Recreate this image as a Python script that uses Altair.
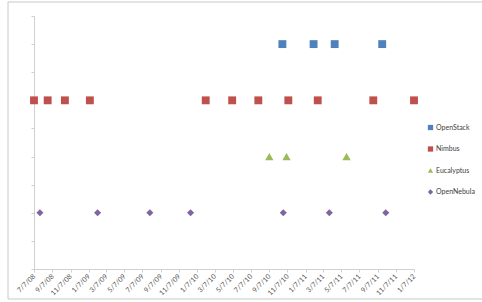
import altair as alt
import pandas as pd

series_names = ["OpenStack", "Nimbus", "Eucalyptus", "OpenNebula"]
series_levels = [8, 6, 4, 2]
series_colors = ["#4F81BD", "#C0504D", "#9BBB59", "#8064A2"]
series_shapes = ["square", "square", "triangle-up", "diamond"]

openstack_dates = ["2010-10-21", "2011-02-03", "2011-04-15", "2011-09-22"]
nimbus_dates = ["2008-07-07", "2008-08-22", "2008-10-19", "2009-01-11", "2010-02-05",
                "2010-05-05", "2010-08-01", "2010-11-10", "2011-02-17", "2011-08-23",
                "2012-01-07"]
eucalyptus_dates = ["2010-09-07", "2010-11-04", "2011-05-25"]
opennebula_dates = ["2008-07-27", "2009-02-06", "2009-08-01", "2009-12-16",
                    "2010-10-24", "2011-03-28", "2011-10-04"]

tick_dates = ["2008-07-07", "2008-09-07", "2008-11-07", "2009-01-07", "2009-03-07",
              "2009-05-07", "2009-07-07", "2009-09-07", "2009-11-07", "2010-01-07",
              "2010-03-07", "2010-05-07", "2010-07-07", "2010-09-07", "2010-11-07",
              "2011-01-07", "2011-03-07", "2011-05-07", "2011-07-07", "2011-09-07",
              "2011-11-07", "2012-01-07"]
y_ticks = [0, 1, 2, 3, 4, 5, 6, 7, 8, 9]

rows = []
for name, level, dates in zip(series_names, series_levels,
                              [openstack_dates, nimbus_dates, eucalyptus_dates, opennebula_dates]):
    for d in dates:
        rows.append({"series": name, "date": d, "level": level})
df = pd.DataFrame(rows)

sizes = {"OpenStack": 62, "Nimbus": 62, "Eucalyptus": 70, "OpenNebula": 50}
df["size"] = df["series"].map(sizes)

W, H = 380, 253
PL, PT = 34, 16

legend_kw = dict(title=None, orient="none", legendX=393, legendY=108,
                 labelFontSize=7, labelColor="#404040", labelFont="Lato",
                 symbolSize=28, rowPadding=13.5, labelOffset=2)

points = alt.Chart(df).mark_point(filled=True, opacity=1, strokeWidth=0.6).encode(
    x=alt.X("date:T",
            scale=alt.Scale(type="utc", domain=[tick_dates[0], tick_dates[-1]], nice=False),
            axis=alt.Axis(values=tick_dates,
                          labelExpr="utcFormat(datum.value, '%-m/%-d/%y')",
                          labelAngle=-45, labelAlign="right", labelBaseline="middle",
                          labelFontSize=7, labelColor="#595959", labelFont="Lato",
                          labelPadding=3, tickSize=3, tickColor="#d0d0d0",
                          domainColor="#d0d0d0", grid=False, title=None,
                          labelOverlap=False)),
    y=alt.Y("level:Q", scale=alt.Scale(domain=[0, 9], nice=False),
            axis=alt.Axis(values=y_ticks, labels=False, tickSize=3, tickColor="#d0d0d0",
                          domainColor="#d0d0d0", grid=False, title=None)),
    color=alt.Color("series:N",
                    scale=alt.Scale(domain=series_names, range=series_colors),
                    legend=alt.Legend(**legend_kw)),
    shape=alt.Shape("series:N",
                    scale=alt.Scale(domain=series_names, range=series_shapes),
                    legend=alt.Legend(**legend_kw)),
    size=alt.Size("size:Q", scale=None, legend=None),
)

border = alt.Chart(pd.DataFrame({"k": [0]})).mark_rect(
    fill=None, stroke="#c8c8c8", strokeWidth=1
).encode(x=alt.value(-26), x2=alt.value(460), y=alt.value(-14), y2=alt.value(283))

chart = alt.layer(border, points).properties(
    width=W, height=H,
    autosize=alt.AutoSizeParams(type="none"),
    padding={"left": PL, "top": PT, "right": 482 - PL - W, "bottom": 302 - PT - H},
    background="white",
).configure_view(stroke=None)

chart.save("out.html", embed_options={"renderer": "svg", "actions": False})
